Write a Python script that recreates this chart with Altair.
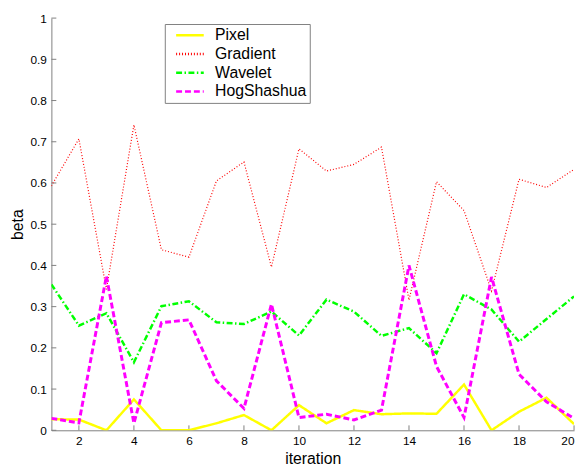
import altair as alt
import pandas as pd

iteration = list(range(1, 21))
series_names = ["Pixel", "Gradient", "Wavelet", "HogShashua"]
pixel = [0.027, 0.026, 0.0, 0.075, 0.0, 0.0, 0.017, 0.037, 0.0, 0.061,
         0.017, 0.049, 0.039, 0.041, 0.040, 0.111, 0.0, 0.045, 0.079, 0.015]
gradient = [0.593, 0.707, 0.342, 0.741, 0.438, 0.420, 0.605, 0.651, 0.396, 0.683,
            0.629, 0.645, 0.687, 0.316, 0.603, 0.533, 0.338, 0.609, 0.589, 0.633]
wavelet = [0.354, 0.254, 0.284, 0.165, 0.301, 0.313, 0.262, 0.258, 0.288, 0.230,
           0.317, 0.288, 0.229, 0.248, 0.187, 0.330, 0.293, 0.215, 0.270, 0.325]
hog = [0.029, 0.018, 0.374, 0.017, 0.261, 0.268, 0.120, 0.053, 0.306, 0.031,
       0.039, 0.025, 0.049, 0.400, 0.155, 0.031, 0.372, 0.136, 0.069, 0.029]
y_ticks = [0, 0.1, 0.2, 0.3, 0.4, 0.5, 0.6, 0.7, 0.8, 0.9, 1]
x_ticks = [2, 4, 6, 8, 10, 12, 14, 16, 18, 20]

colors = ["#ffff00", "#ff0000", "#00ff00", "#ff00ff"]
dashes = [[1, 0], [1, 2], [6, 2.5, 1.5, 2.5], [6, 3]]
widths = [2.5, 1.2, 2.5, 3]

rows = []
for name, vals in zip(series_names, [pixel, gradient, wavelet, hog]):
    for it, v in zip(iteration, vals):
        rows.append({"iteration": it, "beta": v, "series": name})
df = pd.DataFrame(rows)

W, H = 530, 418
FONT = "Liberation Sans"
GRAY = "#808080"

xscale = alt.Scale(domain=[1, 20], nice=False, zero=False)
yscale = alt.Scale(domain=[0, 1], nice=False)

legend = alt.Legend(
    title=None, orient="none", legendX=115, legendY=6,
    strokeColor=GRAY, fillColor="white", padding=3, symbolOffset=14,
    labelFontSize=16, labelFont=FONT, labelColor="black", labelOffset=17,
    rowPadding=2, symbolType="M-2,0H2", symbolSize=196, symbolStrokeWidth=2.5,
)

enc_color = alt.Color("series:N", scale=alt.Scale(domain=series_names, range=colors), legend=legend)
enc_dash = alt.StrokeDash("series:N", scale=alt.Scale(domain=series_names, range=dashes), legend=legend)

x_enc = alt.X("iteration:Q", scale=xscale,
              axis=alt.Axis(values=x_ticks, title="iteration", format="~g"))
y_enc = alt.Y("beta:Q", scale=yscale,
              axis=alt.Axis(values=y_ticks, title="beta", format="~g"))

layers = []
for name, w in zip(series_names, widths):
    layers.append(
        alt.Chart(df).transform_filter(alt.datum.series == name)
        .mark_line(clip=True, strokeWidth=w)
        .encode(x=x_enc, y=y_enc, color=enc_color, strokeDash=enc_dash)
    )

ytick_df = pd.DataFrame({"v": y_ticks})
xtick_df = pd.DataFrame({"v": x_ticks})
ytick_layer = alt.Chart(ytick_df).mark_rule(color=GRAY, strokeWidth=1).encode(
    y=alt.Y("v:Q", scale=yscale), x=alt.value(0), x2=alt.value(5)
)
xtick_layer = alt.Chart(xtick_df).mark_rule(color=GRAY, strokeWidth=1).encode(
    x=alt.X("v:Q", scale=xscale), y=alt.value(H), y2=alt.value(H - 5)
)

chart = alt.layer(ytick_layer, xtick_layer, *layers).properties(
    width=W, height=H,
    autosize=alt.AutoSizeParams(type="none"),
    padding={"left": 44, "top": 7, "right": 3, "bottom": 35},
).configure_view(stroke=None).configure_axis(
    domainColor=GRAY, domainWidth=1, ticks=False, grid=False,
    labelFont=FONT, labelFontSize=12, labelColor="black", labelPadding=5,
    titleFont=FONT, titleFontSize=16, titleFontWeight="normal", titleColor="black",
).configure_axisX(titlePadding=5).configure_axisY(titlePadding=5)

chart.save("out.html", embed_options={"renderer": "svg", "actions": False})
